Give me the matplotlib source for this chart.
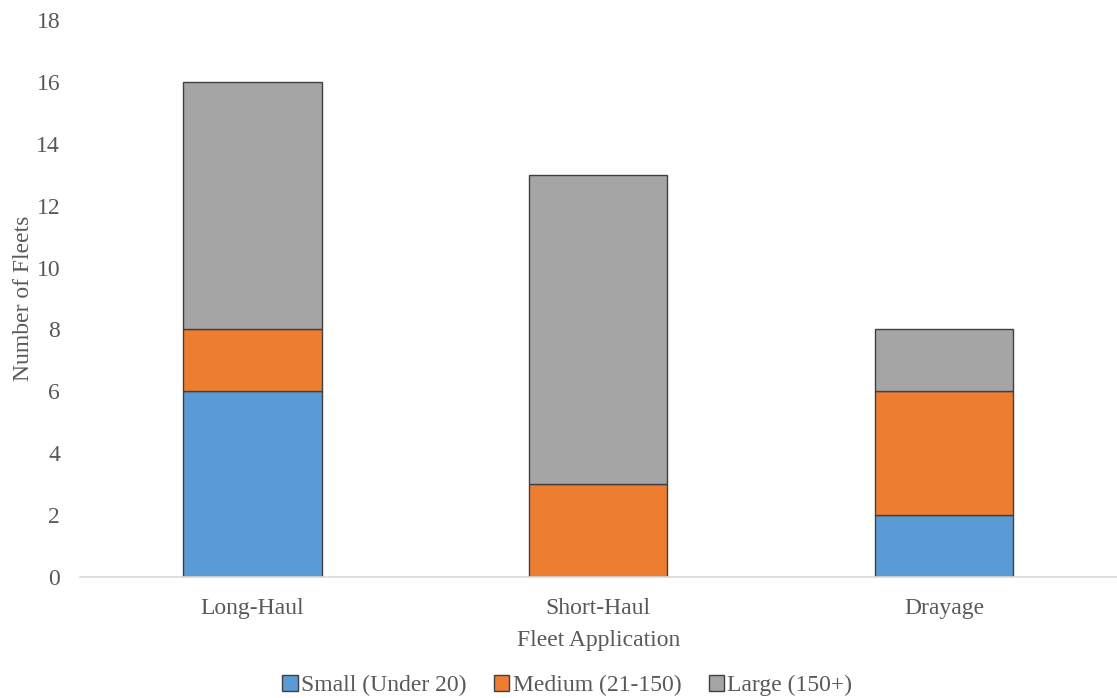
import matplotlib
matplotlib.use("Agg")
import matplotlib.pyplot as plt
import numpy as np

categories = ["Long-Haul", "Short-Haul", "Drayage"]
small = [6, 0, 2]
medium = [2, 3, 4]
large = [8, 10, 2]
series_names = ["Small (Under 20)", "Medium (21-150)", "Large (150+)"]
colors = ["#5B9BD5", "#ED7D31", "#A5A5A5"]

plt.rcParams["font.family"] = ["Liberation Serif", "DejaVu Serif"]
text_color = "#595959"

fig = plt.figure(figsize=(11.17, 6.98), dpi=100)
ax = fig.add_axes([0.0712, 0.1734, 0.9288, 0.7980])

x = np.arange(len(categories))
bottom = np.zeros(len(categories))
for vals, name, col in zip([small, medium, large], series_names, colors):
    ax.bar(x, vals, width=0.4, bottom=bottom, color=col, edgecolor="#404040",
           linewidth=1.0, label=name)
    bottom += np.array(vals)

ax.set_xlim(-0.5, 2.5)
ax.set_ylim(0, 18)
ax.set_yticks(range(0, 19, 2))
ax.set_xticks(x)
ax.set_xticklabels(categories)
ax.tick_params(axis="both", length=0, labelsize=17, colors=text_color)
ax.tick_params(axis="y", pad=14)
ax.tick_params(axis="x", pad=15)

for s in ["top", "right", "left"]:
    ax.spines[s].set_visible(False)
ax.spines["bottom"].set_color("#D9D9D9")
ax.spines["bottom"].set_linewidth(1.2)

ax.set_xlabel("Fleet Application", fontsize=17, color=text_color, labelpad=8)
ax.set_ylabel("Number of Fleets", fontsize=17, color=text_color, labelpad=2)

leg = fig.legend(loc="center", bbox_to_anchor=(0.508, 0.018), ncol=3, frameon=False,
                 fontsize=17, handlelength=0.65, handleheight=0.65, handletextpad=0.15,
                 columnspacing=1.15)
for t in leg.get_texts():
    t.set_color(text_color)

fig.savefig("out.png", dpi=100)
